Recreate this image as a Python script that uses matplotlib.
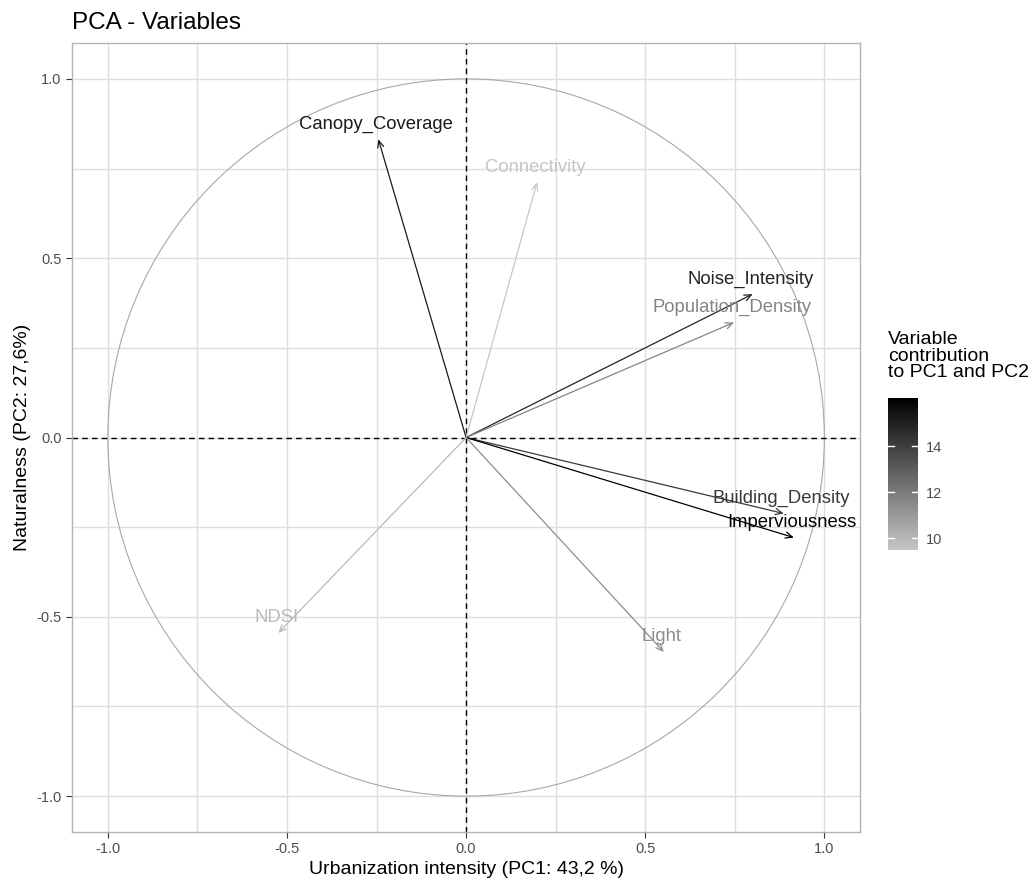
import numpy as np
import matplotlib
matplotlib.use("Agg")
import matplotlib.pyplot as plt
from matplotlib.colors import LinearSegmentedColormap, Normalize
from matplotlib.patches import Circle

plt.rcParams['font.family'] = ['Liberation Sans', 'DejaVu Sans']
plt.rcParams['axes.unicode_minus'] = False

variables = ["Canopy_Coverage", "Connectivity", "Noise_Intensity", "Population_Density",
             "Building_Density", "Imperviousness", "Light", "NDSI"]
pc1 = [-0.245, 0.198, 0.800, 0.748, 0.887, 0.915, 0.552, -0.524]
pc2 = [0.832, 0.712, 0.400, 0.321, -0.212, -0.279, -0.598, -0.545]
contrib = [15.2, 9.5, 14.9, 11.7, 14.2, 16.1, 11.4, 9.9]
cbar_ticks = [10, 12, 14]
axis_ticks = [-1.0, -0.5, 0.0, 0.5, 1.0]

fig = plt.figure(figsize=(10.33, 8.82), dpi=100)
ax = fig.add_axes([0.0697, 0.0567, 0.763, 0.8945])

cmap = LinearSegmentedColormap.from_list("gc", ["#C6C6C6", "#000000"])
norm = Normalize(vmin=9.48, vmax=16.09)

ax.set_xlim(-1.1, 1.1)
ax.set_ylim(-1.1, 1.1)
ax.set_xticks(axis_ticks)
ax.set_yticks(axis_ticks)
ax.set_xticks([-0.75, -0.25, 0.25, 0.75], minor=True)
ax.set_yticks([-0.75, -0.25, 0.25, 0.75], minor=True)
ax.grid(True, which='both', color='#DEDEDE', lw=1.0, zorder=0)
ax.set_axisbelow(True)
ax.tick_params(which='minor', length=0)
ax.tick_params(which='major', length=4, color='#333333', labelsize=10.5, labelcolor='#4D4D4D')
for s in ax.spines.values():
    s.set_color('#B3B3B3')
    s.set_linewidth(1.0)

circ = Circle((0, 0), 1.0, fill=False, ec='#A8A8A8', lw=0.8, zorder=2)
ax.add_patch(circ)
ax.axhline(0, color='black', ls=(0, (4, 3)), lw=1.0, zorder=2)
ax.axvline(0, color='black', ls=(0, (4, 3)), lw=1.0, zorder=2)

for name, x, y, c in zip(variables, pc1, pc2, contrib):
    col = cmap(norm(c))
    ax.annotate("", xy=(x, y), xytext=(0, 0),
                arrowprops=dict(arrowstyle="->,head_length=0.5,head_width=0.22",
                                color=col, lw=0.9, shrinkA=0, shrinkB=0), zorder=3)
    ax.text(x - 0.006, y + 0.042, name, color=col, fontsize=13.3, ha='center', va='center', zorder=4)

ax.set_xlabel("Urbanization intensity (PC1: 43,2 %)", fontsize=14, color='black', labelpad=3)
ax.set_ylabel("Naturalness (PC2: 27,6%)", fontsize=14, color='black', labelpad=4)
ax.set_title("PCA - Variables", fontsize=17.5, loc='left', x=0.0, pad=10, color='black')

cax = fig.add_axes([888/1033, 1-550/882, 30/1033, 152/882])
sm = matplotlib.cm.ScalarMappable(norm=norm, cmap=cmap)
cb = fig.colorbar(sm, cax=cax, ticks=cbar_ticks)
cb.outline.set_visible(False)
cax.tick_params(length=0, labelsize=10.5, labelcolor='#4D4D4D', pad=6)
for t in cbar_ticks:
    yv = t
    cax.plot([0, 0.2], [yv, yv], color='white', lw=1, transform=cax.get_yaxis_transform())
    cax.plot([0.8, 1.0], [yv, yv], color='white', lw=1, transform=cax.get_yaxis_transform())
fig.text(888/1033, 1-331/882, "Variable\ncontribution\nto PC1 and PC2", fontsize=14,
         ha='left', va='top', linespacing=0.98)

fig.savefig("out.png", dpi=100)
